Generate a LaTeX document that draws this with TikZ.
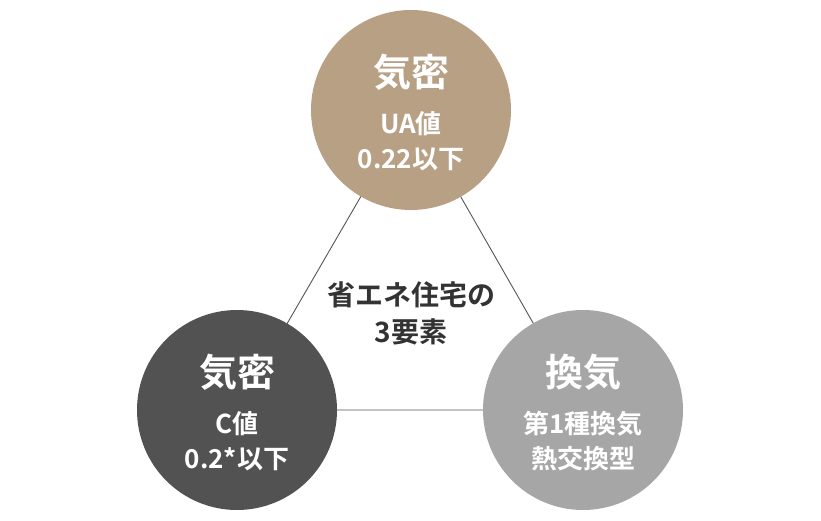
\documentclass[tikz,border=0pt]{standalone}
\usepackage{fontspec}
\setmainfont{Noto Sans CJK JP}[BoldFont={Noto Sans CJK JP Bold}]
\usepackage{xcolor}
\usepackage{tikz}
\usetikzlibrary{backgrounds}
\definecolor{sand}{HTML}{B8A085}
\definecolor{slate}{HTML}{525252}
\definecolor{ash}{HTML}{A6A6A6}
\definecolor{ink}{HTML}{333333}
\definecolor{rule}{HTML}{555555}
\tikzset{
  disc/.style={circle, minimum size=200pt, inner sep=0pt, draw=none},
  ttl/.style={font=\bfseries\fontsize{38}{42}\selectfont, text=white, inner sep=0pt},
  sub/.style={font=\bfseries\fontsize{26}{35}\selectfont, text=white, align=center, inner sep=0pt},
  hub/.style={font=\bfseries\fontsize{28}{37}\selectfont, text=ink, align=center, inner sep=0pt},
  tie/.style={draw=rule, line width=0.9pt}
}

\begin{document}
\begin{tikzpicture}[x=1pt, y=1pt]
  \useasboundingbox (0,0) rectangle (821,-521);

  % three elements
  \node[disc, fill=sand] (ua) at (411,-110) {};
  \node[disc, fill=slate] (cv) at (237,-410) {};
  \node[disc, fill=ash] (vent) at (583,-410) {};

  \node[ttl] (uattl) at ([yshift=38pt]ua.center) {気密};
  \node[sub] (uasub) at ([yshift=-31pt]ua.center) {UA値\\0.22以下};
  \node[ttl] (cvttl) at ([yshift=38pt]cv.center) {気密};
  \node[sub] (cvsub) at ([yshift=-31pt]cv.center) {C値\\0.2*以下};
  \node[ttl] (ventttl) at ([yshift=38pt]vent.center) {換気};
  \node[sub] (ventsub) at ([yshift=-31pt]vent.center) {第1種換気\\熱交換型};

  % centre label
  \node[hub] (hub) at (411,-313) {省エネ住宅の\\3要素};

  \begin{scope}[on background layer]
    \draw[tie] (ua.center) -- (cv.center) -- (vent.center) -- (ua.center);
  \end{scope}
\end{tikzpicture}
\end{document}
